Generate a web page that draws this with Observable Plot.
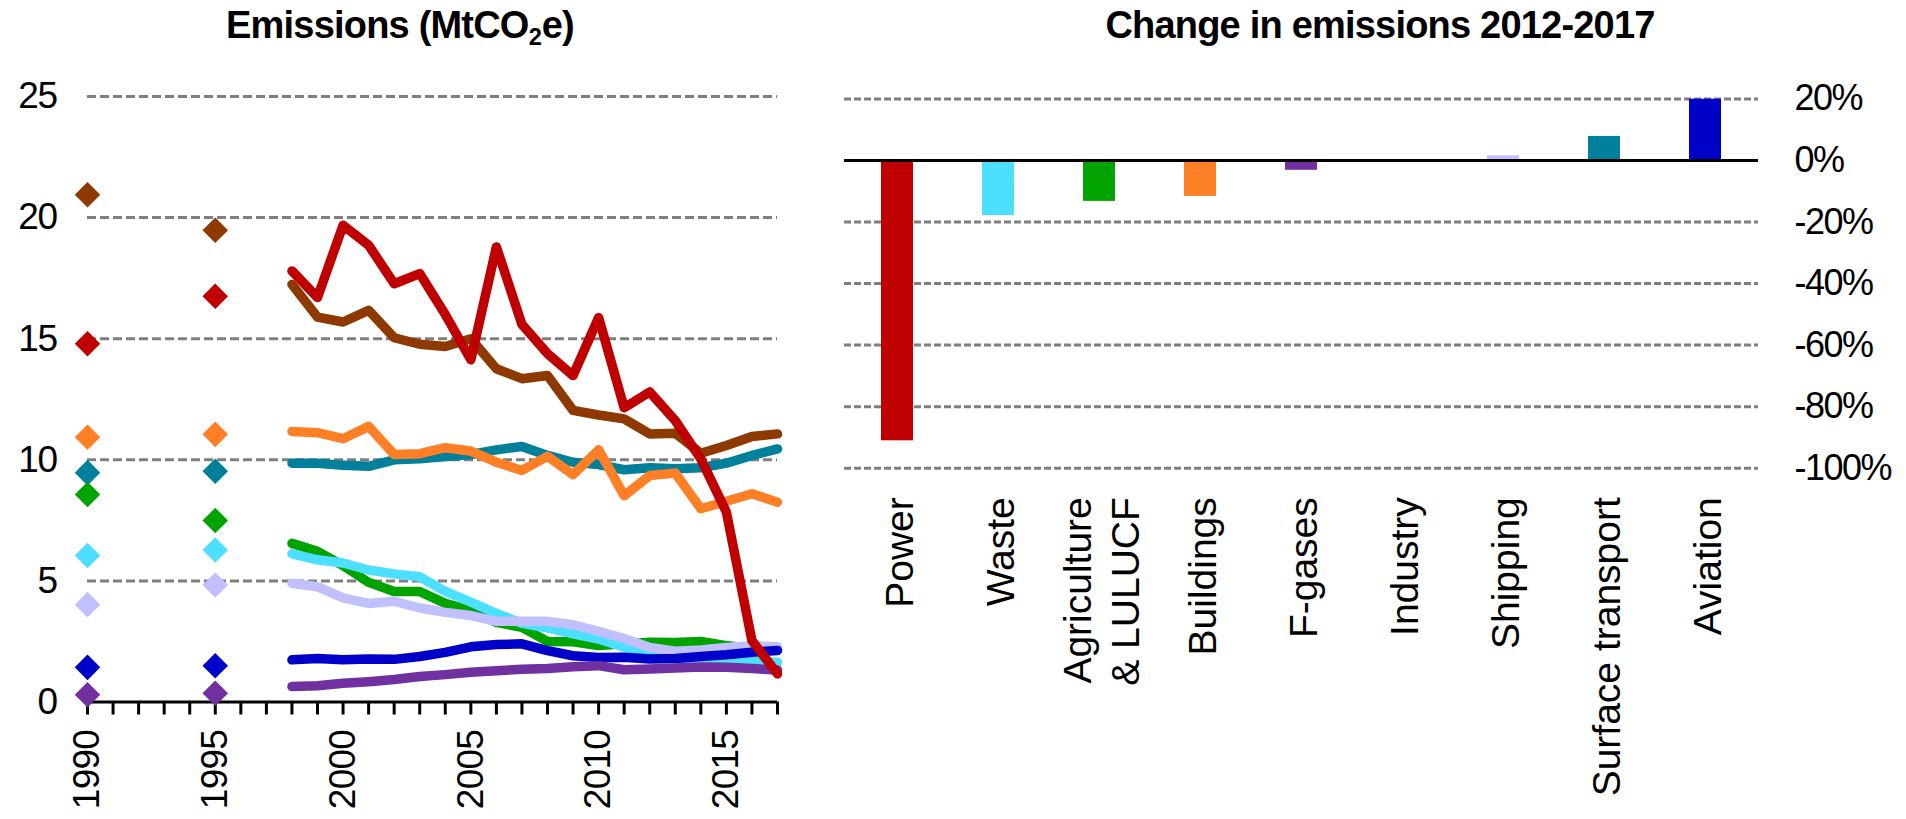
<!DOCTYPE html>
<html>
<head>
<meta charset="utf-8">
<script src="https://cdn.jsdelivr.net/npm/d3@7"></script>
<script src="https://cdn.jsdelivr.net/npm/@observablehq/plot@0.6"></script>
<style>
  body { margin: 0; background: #fff; font-family: "Liberation Sans", Arial, sans-serif; }
  #wrap { position: relative; width: 1906px; height: 819px; overflow: hidden; background: #fff; }
  .panel { position: absolute; top: 0; height: 819px; }
  .title { position: absolute; top: 0; height: 60px; padding-top: 6px; box-sizing: border-box;
           font-weight: bold; font-size: 38px; line-height: 1; letter-spacing: -0.8px;
           text-align: center; white-space: nowrap; color: #000; }
  .title sub { font-size: 0.62em; vertical-align: -0.28em; line-height: 0; letter-spacing: 0; }
  .panel svg { position: absolute; top: 60px; left: 0; }
</style>
</head>
<body>
<div id="wrap">
  <div class="panel" id="left" style="left:0;width:800px">
    <div class="title" style="left:0;width:800px">Emissions (MtCO<sub>2</sub>e)</div>
  </div>
  <div class="panel" id="right" style="left:820px;width:1086px">
    <div class="title" style="left:160px;width:800px">Change in emissions 2012-2017</div>
  </div>
</div>
<script>
// ---------- data ----------
const sectors = ["Surface transport", "Buildings", "Industry", "Agriculture & LULUCF", "Waste", "Shipping", "Aviation", "F-gases", "Power"];
const sectorColors = ["#00809A", "#FF7F27", "#8E3900", "#00A300", "#4DDFFF", "#C0C0FF", "#0000C8", "#7030A0", "#C00000"];

const years = [1998, 1999, 2000, 2001, 2002, 2003, 2004, 2005, 2006, 2007, 2008, 2009, 2010, 2011, 2012, 2013, 2014, 2015, 2016, 2017];
const power      = [17.8, 16.7, 19.68, 18.86, 17.27, 17.69, 16.0, 14.13, 18.79, 15.59, 14.38, 13.48, 15.87, 12.15, 12.8, 11.62, 10.04, 7.84, 2.53, 1.16];
const industry   = [17.24, 15.89, 15.69, 16.17, 15.04, 14.77, 14.68, 15.0, 13.76, 13.35, 13.48, 12.04, 11.85, 11.69, 11.07, 11.1, 10.27, 10.59, 10.96, 11.07];
const buildings  = [11.17, 11.12, 10.87, 11.38, 10.22, 10.25, 10.5, 10.36, 9.9, 9.56, 10.14, 9.39, 10.41, 8.52, 9.35, 9.45, 7.98, 8.29, 8.6, 8.25];
const surface    = [9.86, 9.86, 9.77, 9.73, 10.0, 10.04, 10.14, 10.22, 10.41, 10.55, 10.18, 9.9, 9.8, 9.59, 9.67, 9.63, 9.67, 9.86, 10.18, 10.45];
const agriculture= [6.55, 6.22, 5.63, 4.94, 4.56, 4.56, 4.07, 3.77, 3.29, 3.08, 2.5, 2.49, 2.33, 2.4, 2.47, 2.46, 2.5, 2.33, 2.19, 2.15];
const waste      = [6.12, 5.87, 5.74, 5.45, 5.29, 5.17, 4.57, 4.12, 3.66, 3.25, 3.06, 2.81, 2.6, 2.26, 2.0, 1.78, 1.72, 1.72, 1.68, 1.64];
const shipping   = [4.9, 4.76, 4.3, 4.07, 4.16, 3.88, 3.7, 3.57, 3.33, 3.33, 3.33, 3.19, 2.92, 2.62, 2.25, 2.1, 2.15, 2.25, 2.32, 2.28];
const aviation   = [1.74, 1.8, 1.74, 1.78, 1.76, 1.88, 2.05, 2.28, 2.37, 2.4, 2.12, 1.91, 1.84, 1.85, 1.78, 1.8, 1.88, 1.95, 2.05, 2.13];
const fgases     = [0.64, 0.67, 0.77, 0.84, 0.93, 1.05, 1.13, 1.23, 1.29, 1.35, 1.38, 1.46, 1.5, 1.33, 1.36, 1.4, 1.45, 1.43, 1.38, 1.32];

// isolated early-year values (diamonds)
const earlyYears = [1990, 1995];
const early = {
  "Power": [14.79, 16.75],
  "Industry": [20.94, 19.48],
  "Buildings": [10.93, 11.05],
  "Surface transport": [9.47, 9.53],
  "Agriculture & LULUCF": [8.57, 7.49],
  "Waste": [6.05, 6.28],
  "Shipping": [4.02, 4.83],
  "Aviation": [1.43, 1.5],
  "F-gases": [0.3, 0.36]
};

const leftYTicks = [0, 5, 10, 15, 20, 25];
const leftGrid = [5, 10, 15, 20, 25];
const axisYears = [1990, 1991, 1992, 1993, 1994, 1995, 1996, 1997, 1998, 1999, 2000, 2001, 2002, 2003, 2004, 2005, 2006, 2007, 2008, 2009, 2010, 2011, 2012, 2013, 2014, 2015, 2016, 2017];
const labelYears = [1990, 1995, 2000, 2005, 2010, 2015];

// right chart
const barCategories = ["Power", "Waste", "Agriculture & LULUCF", "Buildings", "F-gases", "Industry", "Shipping", "Surface transport", "Aviation"];
const barLabels = ["Power", "Waste", "Agriculture\n& LULUCF", "Buildings", "F-gases", "Industry", "Shipping", "Surface transport", "Aviation"];
const changes = [-91.1, -17.9, -13.3, -11.7, -3.2, 0, 1.5, 7.8, 19.9];
const rightTicks = [20, 0, -20, -40, -60, -80, -100];
const rightGrid = [20, -20, -40, -60, -80, -100];

// ---------- build tables ----------
const seriesBySector = {
  "Surface transport": surface, "Buildings": buildings, "Industry": industry,
  "Agriculture & LULUCF": agriculture, "Waste": waste, "Shipping": shipping,
  "Aviation": aviation, "F-gases": fgases, "Power": power
};
const lineData = sectors.flatMap(s => seriesBySector[s].map((v, i) => ({sector: s, year: years[i], value: v})));
const diamondData = sectors.flatMap(s => early[s].map((v, i) => ({sector: s, year: earlyYears[i], value: v})));
const barData = barCategories.map((c, i) => ({cat: c, change: changes[i]}));
const labelOf = new Map(barCategories.map((c, i) => [c, barLabels[i]]));

const font = "Liberation Sans, Arial, sans-serif";
const colorScale = {domain: sectors, range: sectorColors};

// ---------- left chart ----------
const leftSvg = Plot.plot({
  width: 800, height: 759,
  marginLeft: 87, marginRight: 23, marginTop: 36, marginBottom: 117.5,
  style: {fontFamily: font, background: "#fff", color: "#000"},
  x: {domain: [1990, 2017], axis: null, label: null},
  y: {domain: [0, 25], axis: null, label: null},
  color: colorScale,
  marks: [
    Plot.ruleY(leftGrid, {x1: 1990, x2: 2017, stroke: "#7f7f7f", strokeWidth: 3, strokeDasharray: "9,4"}),
    Plot.axisY({ticks: leftYTicks, anchor: "left", label: null, tickSize: 0, tickPadding: 31, fontSize: 37, tickFormat: d => String(d)}),
    Plot.axisX({ticks: axisYears, anchor: "bottom", label: null, tickSize: 13, strokeWidth: 3, stroke: "#000", tickFormat: () => ""}),
    Plot.axisX({ticks: labelYears, anchor: "bottom", label: null, tickSize: 0, tickRotate: -90, tickPadding: 28, fontSize: 37, tickFormat: d => String(d)}),
    Plot.ruleY([0], {x1: 1990, x2: 2017, stroke: "#000", strokeWidth: 3}),
    Plot.line(lineData, {x: "year", y: "value", z: "sector", stroke: "sector", strokeWidth: 9.5, strokeLinecap: "round", strokeLinejoin: "round"}),
    Plot.dot(diamondData, {x: "year", y: "value", fill: "sector", symbol: "diamond2", r: 11.5})
  ]
});

// ---------- right chart ----------
const rightSvg = Plot.plot({
  width: 1086, height: 759,
  marginLeft: 24, marginRight: 148, marginTop: 38.4, marginBottom: 351.3,
  style: {fontFamily: font, background: "#fff", color: "#000"},
  x: {type: "band", domain: barCategories, paddingInner: 0.68, paddingOuter: 0.34, axis: null, label: null},
  y: {domain: [-100, 20], axis: null, label: null},
  color: colorScale,
  marks: [
    Plot.ruleY(rightGrid, {stroke: "#7f7f7f", strokeWidth: 3, strokeDasharray: "7,3"}),
    Plot.barY(barData, {x: "cat", y: "change", fill: "cat"}),
    Plot.ruleY([0], {stroke: "#000", strokeWidth: 3}),
    Plot.axisY({ticks: rightTicks, anchor: "right", label: null, tickSize: 0, tickPadding: 36, fontSize: 36, textAnchor: "start", tickFormat: d => d + "%"}),
    Plot.axisX({anchor: "bottom", label: null, tickSize: 0, tickRotate: -90, tickPadding: 29, fontSize: 39, lineHeight: 1.25, tickFormat: d => labelOf.get(d)})
  ]
});

document.getElementById("left").appendChild(leftSvg);
document.getElementById("right").appendChild(rightSvg);

// condensed numeric labels like the original
d3.select(leftSvg).selectAll('g[aria-label="y-axis tick label"] text').attr("letter-spacing", "-1.5px");
d3.select(leftSvg).selectAll('g[aria-label="x-axis tick label"] text').attr("letter-spacing", "-0.8px");
d3.select(rightSvg).selectAll('g[aria-label="y-axis tick label"] text').attr("letter-spacing", "-1.5px");
</script>
</body>
</html>
